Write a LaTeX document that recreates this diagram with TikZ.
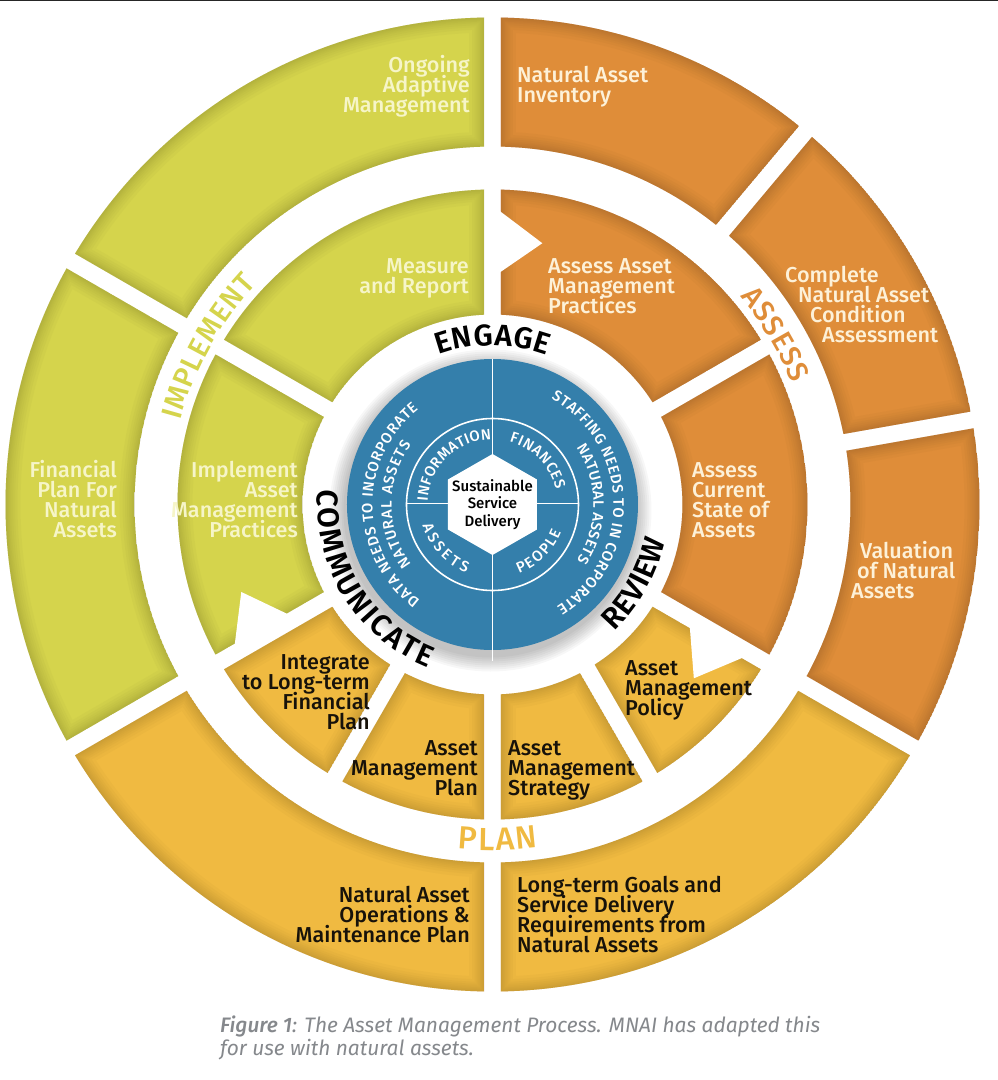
\documentclass[tikz,border=0pt]{standalone}
\usepackage{fontspec}
\usetikzlibrary{decorations.text}
\setmainfont{Fira Sans}[BoldFont={Fira Sans Medium},ItalicFont={Fira Sans Italic},BoldItalicFont={Fira Sans Medium Italic}]
\newfontfamily\semif{Fira Sans SemiBold}
\AtBeginDocument{\lineskiplimit=-30pt\relax}
\definecolor{orangeC}{HTML}{DF8D39}
\definecolor{greenC}{HTML}{D5D44C}
\definecolor{goldC}{HTML}{F0BA41}
\definecolor{blueC}{HTML}{347FAB}
\definecolor{creamO}{HTML}{FDF1D8}
\definecolor{creamG}{HTML}{F6F5C8}
\definecolor{inkC}{HTML}{17120A}
\definecolor{capC}{HTML}{85888C}
\def\hg{8.5}
\newcommand\sector[5]{%
  \pgfmathsetmacro\oa{#2+asin(\hg/#5)}%
  \pgfmathsetmacro\ob{#3-asin(\hg/#5)}%
  \pgfmathsetmacro\ia{#2+asin(\hg/#4)}%
  \pgfmathsetmacro\ib{#3-asin(\hg/#4)}%
  \def\secp{(\oa:#5pt) arc[start angle=\oa,end angle=\ob,radius=#5pt] -- (\ib:#4pt) arc[start angle=\ib,end angle=\ia,radius=#4pt] -- cycle}%
  \begin{scope}
    \clip \secp;
    \fill[#1] \secp;
    \foreach \w in {30,24,19,15,11,8,5,2.5}{\draw[#1!60!black,opacity=.05,line width=\w pt] \secp;}
  \end{scope}}
\newcommand\notch[1]{\fill[white] (#1:227pt) -- ({#1-10.8}:266pt) -- (#1:299pt) -- cycle;}
\newcommand\arctxt[6]{%
  \path[decorate,decoration={text along path,text={|#5|#6},text color=#4,text align={fit to path}}]
    (#2:#1pt) arc[start angle=#2,end angle=#3,radius=#1pt];}
\newcommand\lst{\vrule width 0pt height 17pt depth 7pt\relax}
\tikzset{
  lab/.style={font=\fontsize{21.6}{20}\selectfont\bfseries,inner sep=0pt,yshift=-2.5pt},
  oL/.style={lab,text=creamO,align=left,anchor=west},
  gR/.style={lab,text=creamG,align=right,anchor=east},
  dL/.style={lab,text=inkC,align=left,anchor=west},
  dR/.style={lab,text=inkC,align=right,anchor=east},
}
\newcommand\bigF{\fontsize{30}{30}\selectfont\semif}
\newcommand\midF{\fontsize{29}{29}\selectfont\bfseries}
\newcommand\plF{\fontsize{32}{32}\selectfont\bfseries}
\newcommand\smF{\fontsize{15}{15}\selectfont\bfseries}
\begin{document}
\begin{tikzpicture}[x=1pt,y=1pt]
\useasboundingbox (-492.5pt,-575.5pt) rectangle (505.5pt,504.5pt);
\fill[white] (-492.5pt,-575.5pt) rectangle (505.5pt,504.5pt);
\fill[black!85] (-492.5pt,503pt) rectangle (505.5pt,504.5pt);
% outer ring
\sector{orangeC}{50}{90}{358}{487}
\sector{orangeC}{10}{50}{358}{487}
\sector{orangeC}{-30}{10}{358}{487}
\sector{goldC}{-90}{-30}{358}{487}
\sector{goldC}{-150}{-90}{358}{487}
\sector{greenC}{150}{210}{358}{487}
\sector{greenC}{90}{150}{358}{487}
% inner ring
\sector{orangeC}{30}{90}{190}{315}
\sector{orangeC}{-30}{30}{190}{315}
\sector{goldC}{-60}{-30}{190}{315}
\sector{goldC}{-90}{-60}{190}{315}
\sector{goldC}{-120}{-90}{190}{315}
\sector{goldC}{-150}{-120}{190}{315}
\sector{greenC}{150}{210}{190}{315}
\sector{greenC}{90}{150}{190}{315}
\notch{90}
\notch{-30}
\notch{210}
% blue disc with soft shadow
\foreach \rr in {161,159,157,155,153,151,149,147}{\fill[black,opacity=.03] (-2pt,-6pt) circle[radius=\rr pt];}
\fill[blueC] (0,0) circle[radius=145.5pt];
\draw[white,line width=1.6pt] (0,146pt) -- (0,-156pt);
\draw[white,line width=1.6pt] (0,0) circle[radius=86pt];
\draw[white,line width=1.6pt] (-86pt,1pt) -- (86pt,1pt);
\fill[white] (0,50.5pt) -- (44.5pt,25pt) -- (44.5pt,-25pt) -- (0,-50.5pt) -- (-44.5pt,-25pt) -- (-44.5pt,25pt) -- cycle;
% curved labels
\arctxt{159}{110}{70}{black}{\bigF}{ENGAGE}
\arctxt{175}{175}{248.5}{black}{\bigF}{COMMUNICATE}
\arctxt{176}{-46}{-12}{black}{\bigF}{REVIEW}
\arctxt{323}{165}{137}{greenC}{\midF}{IMPLEMENT}
\arctxt{323}{40}{22}{orangeC}{\midF}{ASSESS}
\arctxt{346}{-95.8}{-82.4}{goldC}{\plF}{PLAN}
\arctxt{121}{61}{-58}{white}{\smF}{STAFFING NEEDS TO IN CORPORATE}
\arctxt{101}{34}{-33.5}{white}{\smF}{NATURAL ASSETS}
\arctxt{120}{233}{128}{white}{\smF}{DATA NEEDS TO INCORPORATE}
\arctxt{101}{216.5}{143.5}{white}{\smF}{NATURAL ASSETS}
\arctxt{65}{177}{91}{white}{\smF}{INFORMATION}
\arctxt{65}{75}{13}{white}{\smF}{FINANCES}
\arctxt{74}{-69}{-22}{white}{\smF}{PEOPLE}
\arctxt{73}{196.5}{249}{white}{\smF}{ASSETS}
% straight labels, in image coordinates
\begin{scope}[x=1pt,y=-1pt,shift={(-492.5pt,504.5pt)}]
\node[oL] (n1) at (517,85) {\lst Natural Asset\\Inventory\lst};
\node[oL] (n2) at (785,305) {\lst Complete\\\hspace*{13pt}Natural Asset\\\hspace*{25pt}Condition\\\hspace*{37pt}Assessment\lst};
\node[oL] (n3) at (548,286) {\lst Assess Asset\\Management\\Practices\lst};
\node[oL] (n4) at (692,500) {\lst Assess\\Current\\State of\\Assets\lst};
\node[oL] (n5) at (851,571) {\lst\hspace*{9pt}Valuation\\\hspace*{6pt}of Natural\\Assets\lst};
\node[dL] (n6) at (625,688) {\lst Asset\\Management\\Policy\lst};
\node[dL] (n7) at (517,915) {\lst Long-term Goals and\\Service Delivery\\Requirements from\\Natural Assets\lst};
\node[dL] (n8) at (508,768) {\lst Asset\\Management\\Strategy\lst};
\node[dR] (n9) at (478,768) {\lst Asset\\Management\\Plan\lst};
\node[dR] (n10) at (370,692) {\lst Integrate\\to Long-term\\Financial\\Plan\lst};
\node[dR] (n11) at (470,915) {\lst Natural Asset\\Operations \&\\Maintenance Plan\lst};
\node[gR] (n12) at (298,500) {\lst Implement\\Asset\\Management\\Practices\lst};
\node[gR] (n13) at (117,500) {\lst Financial\\Plan For\\Natural\\Assets\lst};
\node[gR] (n14) at (469,276) {\lst Measure\\and Report\lst};
\node[gR] (n15) at (470,85) {\lst Ongoing\\Adaptive\\Management\lst};
\node[font=\fontsize{15}{17.5}\selectfont\bfseries,text=black,align=center,inner sep=0pt] (hub) at (492.5,504.5) {Sustainable\\Service\\Delivery};
\node[font=\fontsize{20.9}{23}\selectfont\itshape,text=capC,align=left,anchor=north west,inner sep=0pt] (cap) at (220,1016) {\textbf{Figure 1}: The Asset Management Process. MNAI has adapted this\\for use with natural assets.};
\end{scope}
\end{tikzpicture}
\end{document}
